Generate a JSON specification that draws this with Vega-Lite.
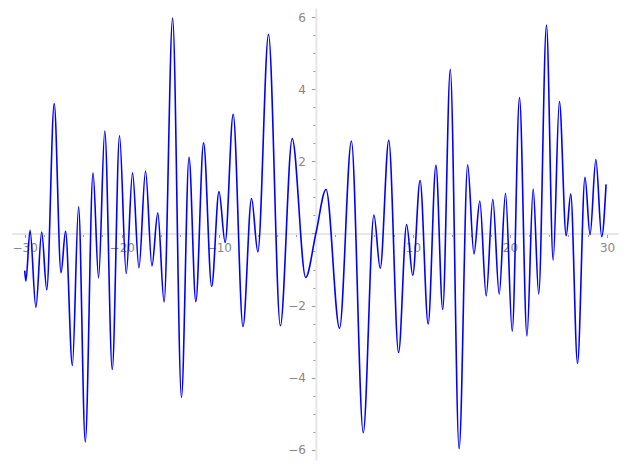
{
  "$schema": "https://vega.github.io/schema/vega-lite/v6.json",
  "width": 606,
  "height": 452,
  "autosize": {"type": "none"},
  "padding": {"left": 12, "top": 8, "right": 9, "bottom": 8},
  "background": "white",
  "config": {"view": {"stroke": null}},
  "data": {"values": [
    {"x": -30.0, "y": -1.03}, {"x": -29.88, "y": -1.32}, {"x": -29.45, "y": 0.09}, {"x": -28.85, "y": -2.05},
    {"x": -28.25, "y": 0.04}, {"x": -27.73, "y": -1.56}, {"x": -26.96, "y": 3.60}, {"x": -26.26, "y": -1.09},
    {"x": -25.79, "y": 0.06}, {"x": -25.09, "y": -3.66}, {"x": -24.45, "y": 0.74}, {"x": -23.76, "y": -5.78},
    {"x": -22.96, "y": 1.68}, {"x": -22.39, "y": -1.23}, {"x": -21.75, "y": 2.84}, {"x": -20.98, "y": -3.77},
    {"x": -20.23, "y": 2.71}, {"x": -19.54, "y": -1.11}, {"x": -18.89, "y": 1.68}, {"x": -18.23, "y": -0.95},
    {"x": -17.55, "y": 1.73}, {"x": -16.89, "y": -0.90}, {"x": -16.29, "y": 0.57}, {"x": -15.64, "y": -1.90},
    {"x": -14.76, "y": 5.97}, {"x": -13.85, "y": -4.55}, {"x": -13.07, "y": 2.11}, {"x": -12.37, "y": -1.89},
    {"x": -11.57, "y": 2.51}, {"x": -10.74, "y": -1.47}, {"x": -9.98, "y": 1.16}, {"x": -9.35, "y": -0.25},
    {"x": -8.52, "y": 3.30}, {"x": -7.51, "y": -2.58}, {"x": -6.63, "y": 0.97}, {"x": -5.98, "y": -0.51},
    {"x": -4.88, "y": 5.52}, {"x": -3.66, "y": -2.56}, {"x": -2.44, "y": 2.63}, {"x": -1.05, "y": -1.22},
    {"x": 0, "y": 0},
    {"x": 1.05, "y": 1.22}, {"x": 2.44, "y": -2.63}, {"x": 3.66, "y": 2.56}, {"x": 4.88, "y": -5.52},
    {"x": 5.98, "y": 0.51}, {"x": 6.63, "y": -0.97}, {"x": 7.51, "y": 2.58}, {"x": 8.52, "y": -3.30},
    {"x": 9.35, "y": 0.25}, {"x": 9.98, "y": -1.16}, {"x": 10.74, "y": 1.47}, {"x": 11.57, "y": -2.51},
    {"x": 12.37, "y": 1.89}, {"x": 13.07, "y": -2.11}, {"x": 13.85, "y": 4.55}, {"x": 14.76, "y": -5.97},
    {"x": 15.64, "y": 1.90}, {"x": 16.29, "y": -0.57}, {"x": 16.89, "y": 0.90}, {"x": 17.55, "y": -1.73},
    {"x": 18.23, "y": 0.95}, {"x": 18.89, "y": -1.68}, {"x": 19.54, "y": 1.11}, {"x": 20.23, "y": -2.71},
    {"x": 20.98, "y": 3.77}, {"x": 21.75, "y": -2.84}, {"x": 22.39, "y": 1.23}, {"x": 22.96, "y": -1.68},
    {"x": 23.76, "y": 5.78}, {"x": 24.45, "y": -0.74}, {"x": 25.09, "y": 3.66}, {"x": 25.79, "y": -0.06},
    {"x": 26.26, "y": 1.09}, {"x": 26.96, "y": -3.60}, {"x": 27.73, "y": 1.56}, {"x": 28.25, "y": -0.04},
    {"x": 28.85, "y": 2.05}, {"x": 29.45, "y": -0.09}, {"x": 29.9, "y": 1.36}
  ]},
  "mark": {"type": "line", "color": "#0000ff", "strokeWidth": 1.6, "interpolate": "monotone"},
  "encoding": {
    "x": {
      "field": "x", "type": "quantitative",
      "scale": {"domain": [-31.31, 31.13], "nice": false, "zero": false},
      "axis": {
        "title": null, "orient": "bottom", "offset": -226.5, "grid": false,
        "values": [-30,-28,-26,-24,-22,-20,-18,-16,-14,-12,-10,-8,-6,-4,-2,0,2,4,6,8,10,12,14,16,18,20,22,24,26,28,30],
        "labelExpr": "datum.value % 10 == 0 && datum.value != 0 ? (datum.value < 0 ? '\u2212' + abs(datum.value) : '' + datum.value) : ''",
        "domainColor": "#e6e6e6", "domainWidth": 2,
        "tickColor": "#999999", "tickWidth": 1,
        "tickSize": {"condition": {"test": "datum.value % 10 == 0", "value": 4}, "value": 3},
        "labelFont": "DejaVu Sans", "labelFontSize": 12, "labelColor": "#888888",
        "labelPadding": 5, "labelOverlap": false, "labelFlush": false, "labelBound": false
      }
    },
    "y": {
      "field": "y", "type": "quantitative",
      "scale": {"domain": [-6.28, 6.25], "nice": false, "zero": false},
      "axis": {
        "title": null, "orient": "left", "offset": -303.85, "grid": false,
        "values": [-6,-5.5,-5,-4.5,-4,-3.5,-3,-2.5,-2,-1.5,-1,-0.5,0,0.5,1,1.5,2,2.5,3,3.5,4,4.5,5,5.5,6],
        "labelExpr": "datum.value % 2 == 0 && datum.value != 0 ? (datum.value < 0 ? '\u2212' + abs(datum.value) : '' + datum.value) : ''",
        "domainColor": "#e6e6e6", "domainWidth": 2,
        "tickColor": "#999999", "tickWidth": 1,
        "tickSize": {"condition": {"test": "datum.value % 2 == 0", "value": 4.5}, "value": 3},
        "labelFont": "DejaVu Sans", "labelFontSize": 12, "labelColor": "#888888",
        "labelPadding": 6, "labelOverlap": false, "labelFlush": false, "labelBound": false
      }
    }
  }
}
